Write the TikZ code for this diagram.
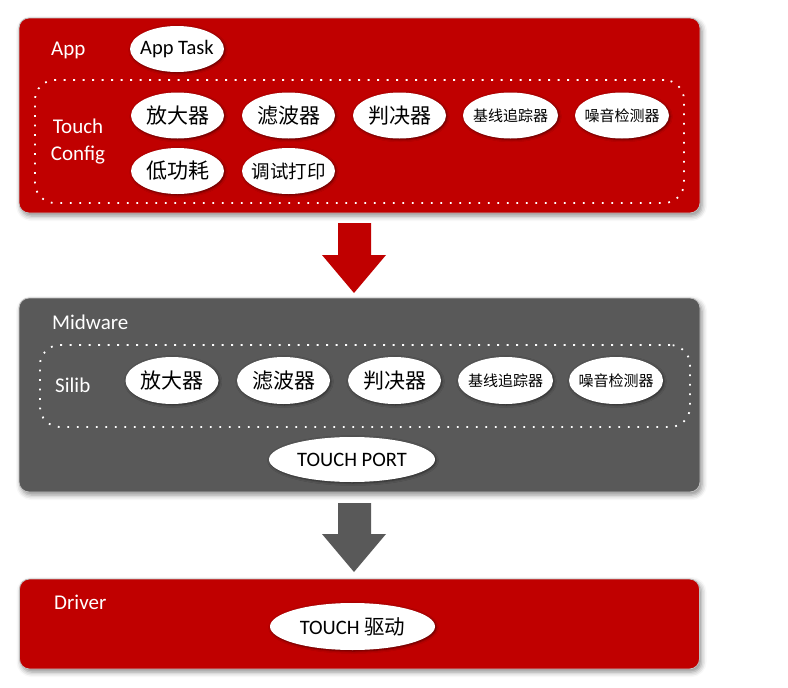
\documentclass[tikz,border=0pt]{standalone}
\usepackage{fontspec}
\setmainfont{Carlito}
\newfontfamily\cjk{Noto Sans CJK SC}
\usetikzlibrary{shapes.geometric,shadows.blur}
\definecolor{panelred}{RGB}{192,0,0}
\definecolor{panelgray}{RGB}{89,89,89}
\newcommand\ovtext[1]{\makebox[0pt][c]{#1}}
\tikzset{
  panel/.style={rectangle, rounded corners=10pt, draw=black!25, line width=0.8pt,
    blur shadow={shadow xshift=2pt, shadow yshift=-3pt, shadow blur radius=5pt, shadow opacity=45},
    inner sep=0pt},
  group/.style={rectangle, rounded corners=20pt, draw=white, line width=1.8pt,
    dash pattern=on 1.8pt off 7.7pt, inner sep=0pt},
  oval/.style={ellipse, fill=white, inner sep=0pt, minimum width=93pt, minimum height=46pt,
    blur shadow={shadow xshift=1pt, shadow yshift=-1pt, shadow blur radius=2.5pt, shadow opacity=55},
    text=black},
  lbl/.style={text=white, anchor=west, inner sep=0pt, font=\fontsize{21}{27}\selectfont},
  lat/.style={font=\fontsize{20.5}{24}\selectfont},
  zhA/.style={font=\cjk\fontsize{21}{24}\selectfont},
  zhB/.style={font=\cjk\fontsize{18.5}{22}\selectfont},
  zhC/.style={font=\cjk\fontsize{15}{18}\selectfont}
}
\begin{document}
\begin{tikzpicture}[x=1pt,y=-1pt]
\useasboundingbox (0,0) rectangle (788,688);
% panels
\node[panel, fill=panelred, minimum width=681pt, minimum height=195pt] (app) at (359.5,115.5) {};
\node[panel, fill=panelgray, minimum width=681pt, minimum height=194pt] (mid) at (359.5,395) {};
\node[panel, fill=panelred, minimum width=680pt, minimum height=90pt] (drv) at (359.5,624) {};
% dotted groups
\node[group, minimum width=649pt, minimum height=123pt] (cfg) at (359.5,141.5) {};
\node[group, minimum width=650pt, minimum height=82pt] (silib) at (365,386) {};
% labels
\node[lbl] (lapp) at (51,50) {App};
\node[lbl, anchor=center, align=center] (lcfg) at (78,141.5) {Touch\\Config};
\node[lbl] (lmid) at (52,322) {Midware};
\node[lbl] (lsil) at (55,385) {Silib};
\node[lbl] (ldrv) at (54,602) {Driver};
% App layer
\node[oval, lat, minimum width=94pt] (task) at (177,49) {\ovtext{App Task}};
\node[oval, zhA] (a1) at (177.5,115.5) {\ovtext{放大器}};
\node[oval, zhA] (a2) at (288.5,115.5) {\ovtext{滤波器}};
\node[oval, zhA] (a3) at (399.5,115.5) {\ovtext{判决器}};
\node[oval, zhC, minimum width=95pt] (a4) at (510.5,115.5) {\ovtext{基线追踪器}};
\node[oval, zhC, minimum width=94pt] (a5) at (622,115.5) {\ovtext{噪音检测器}};
\node[oval, zhA] (a6) at (177.5,171) {\ovtext{低功耗}};
\node[oval, zhB] (a7) at (288.5,171) {\ovtext{调试打印}};
% Midware layer
\node[oval, zhA, minimum height=47pt] (m1) at (172,380.5) {\ovtext{放大器}};
\node[oval, zhA, minimum height=47pt] (m2) at (283.5,380.5) {\ovtext{滤波器}};
\node[oval, zhA, minimum height=47pt] (m3) at (394.5,380.5) {\ovtext{判决器}};
\node[oval, zhC, minimum height=47pt, minimum width=95pt] (m4) at (505.5,380.5) {\ovtext{基线追踪器}};
\node[oval, zhC, minimum height=47pt, minimum width=94pt] (m5) at (616,380.5) {\ovtext{噪音检测器}};
\node[oval, lat, minimum width=166pt, minimum height=45pt] (port) at (352,459.5) {\ovtext{TOUCH PORT}};
% Driver layer
\node[oval, lat, minimum width=165pt, minimum height=47pt] (tdrv) at (352.5,626.5) {\ovtext{TOUCH {\cjk 驱动}}};
% arrows between layers
\fill[panelred] (338,223) -- (371,223) -- (371,255) -- (386,255) -- (354,293) -- (322,255) -- (338,255) -- cycle;
\fill[panelgray] (338,503) -- (371,503) -- (371,534) -- (386,534) -- (354,572) -- (322,534) -- (338,534) -- cycle;
\end{tikzpicture}
\end{document}
